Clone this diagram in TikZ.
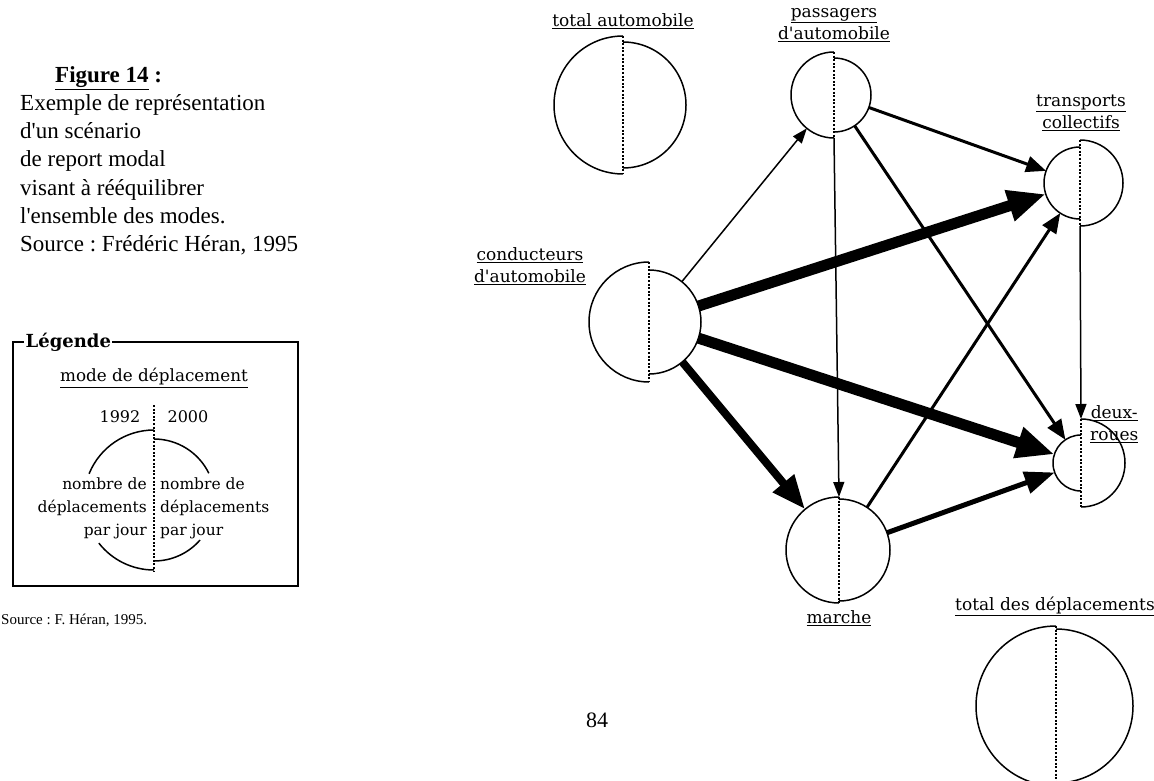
\documentclass[tikz,border=0pt]{standalone}
\usepackage{fontspec}
\setmainfont{Liberation Serif}[Ligatures=TeXOff]
\newfontfamily\labelfont{DejaVu Serif}
\frenchspacing
\usetikzlibrary{arrows.meta, calc}
\tikzset{
  halfnode/.style={circle, minimum size={2*#1pt}, inner sep=0pt, outer sep=0pt},
  discline/.style={line width=1.5pt},
  divider/.style={line width=1.3pt, dash pattern=on 2pt off 1.6pt},
  modelabel/.style={font=\labelfont\fontsize{17}{22}\selectfont, align=center, inner sep=0pt},
  legendtext/.style={font=\labelfont\fontsize{15.5}{23}\selectfont, inner sep=0pt},
  thinflow/.style={line width=1.5pt, -{Triangle[length=15pt,width=11pt]}},
  midflow/.style={line width=3pt, -{Triangle[length=20pt,width=16pt]}},
  boldflow/.style={line width=5pt, -{Triangle[length=30pt,width=22pt]}},
  thickflow/.style={line width=8pt, -{Triangle[length=34pt,width=26pt]}},
  hugeflow/.style={line width=11pt, -{Triangle[length=38pt,width=30pt]}},
}
% one mode: 1992 on the left half, 2000 on the right half
\newcommand*\halfdisc[4]{%
  \node[halfnode=#3] (#1L) at (#2) {};
  \node[halfnode=#4] (#1R) at (#2) {};
  \draw[discline] (#1L.north) arc[start angle=90, end angle=270, radius=#3];
  \draw[discline] (#1R.south) arc[start angle=-90, end angle=90, radius=#4];
  \pgfmathsetmacro\halfmax{max(#3,#4)}
  \draw[divider] ($(#2)+(0,\halfmax)$) -- ($(#2)-(0,\halfmax)$);
}

\begin{document}
\begin{tikzpicture}[x=1pt, y=1pt]
    \useasboundingbox (0,0) rectangle (1154,-781);
    %
    \node[anchor=base west, inner sep=0pt, font=\fontsize{23}{28}\selectfont\bfseries] (figtitle) at (55,-83) {\underline{Figure 14} :};
    \foreach \txt [count=\i] in {Exemple de représentation, d'un scénario, de report modal, visant à rééquilibrer, l'ensemble des modes., {Source : Frédéric Héran, 1995}}
        \node[anchor=base west, inner sep=0pt, font=\fontsize{23}{28}\selectfont] (caption\i) at (20,{-83-28*\i}) {\txt};
    %
    \draw[line width=1.2pt] (13,-342) rectangle (298,-586);
    \node[fill=white, inner sep=1.5pt, anchor=west, font=\labelfont\bfseries\fontsize{18}{20}\selectfont] (legendtitle) at (24,-342) {Légende};
    \node[legendtext, font=\labelfont\fontsize{16.8}{20}\selectfont] (legendmode) at (154,-378) {\underline{mode de déplacement}};
    \node[legendtext, font=\labelfont\fontsize{16}{20}\selectfont] (year1) at (120,-417) {1992};
    \node[legendtext, font=\labelfont\fontsize{16}{20}\selectfont] (year2) at (188,-417) {2000};
    \node[legendtext, anchor=east, align=right] (legendleft) at (147,-508) {nombre de\\déplacements\\par jour};
    \node[legendtext, anchor=west, align=left] (legendright) at (160,-508) {nombre de\\déplacements\\par jour};
    \draw[discline] (154,-500) ++(90:70) arc[start angle=90, end angle=158, radius=70];
    \draw[discline] (154,-500) ++(218:70) arc[start angle=218, end angle=270, radius=70];
    \draw[discline] (154,-500) ++(26:61) arc[start angle=26, end angle=90, radius=61];
    \draw[discline] (154,-500) ++(-90:61) arc[start angle=-90, end angle=-41, radius=61];
    \draw[divider] (154,-405) -- (154,-572);
    \node[anchor=west, inner sep=0pt, font=\fontsize{15}{17}\selectfont] (legendsource) at (1,-620) {Source : F. Héran, 1995.};
    %
    \node[inner sep=0pt, font=\fontsize{22}{26}\selectfont] (pagenum) at (597,-720) {84};
    %
    \coordinate (centerTA) at (623,-105);
    \coordinate (centerPA) at (834,-95);
    \coordinate (centerCA) at (649,-322);
    \coordinate (centerTC) at (1080,-183);
    \coordinate (centerDR) at (1081,-463);
    \coordinate (centerMA) at (839,-550);
    \coordinate (centerTD) at (1056,-706);
    %
    \halfdisc{TA}{centerTA}{69}{63}
    \halfdisc{PA}{centerPA}{43}{37}
    \halfdisc{CA}{centerCA}{60}{52}
    \halfdisc{TC}{centerTC}{36}{43}
    \halfdisc{DR}{centerDR}{28}{44}
    \halfdisc{MA}{centerMA}{53}{51}
    \halfdisc{TD}{centerTD}{80}{77}
    %
    \node[modelabel] (lblTA) at (623,-21) {\underline{total automobile}};
    \node[modelabel] (lblPA) at (834,-25) {\underline{passagers}\\\underline{d'automobile}};
    \node[modelabel] (lblCA) at (530,-266) {\underline{conducteurs}\\\underline{d'automobile}};
    \node[modelabel] (lblTC) at (1081,-113) {\underline{transports}\\\underline{collectifs}};
    \node[modelabel, anchor=west] (lblDR) at (1090,-424) {\underline{deux-}\\\underline{roues}};
    \node[modelabel] (lblMA) at (839,-618) {\underline{marche}};
    \node[modelabel] (lblTD) at (1055,-606) {\underline{total des déplacements}};
    %
    \draw[thinflow] (CAR) -- (PAL);
    \draw[hugeflow] (CAR) -- (TCL);
    \draw[hugeflow] (CAR) -- (DRL);
    \draw[thickflow] (CAR) -- (MAL);
    \draw[midflow] (PAR) -- (TCL);
    \draw[midflow] (PAR) -- (DRL);
    \draw[thinflow] (PAL.south) -- (MAL.north);
    \draw[thinflow] (TCR.south) -- (DRR.north);
    \draw[midflow] (MAR) -- (TCL);
    \draw[boldflow] (MAR) -- (DRL);
\end{tikzpicture}
\end{document}
